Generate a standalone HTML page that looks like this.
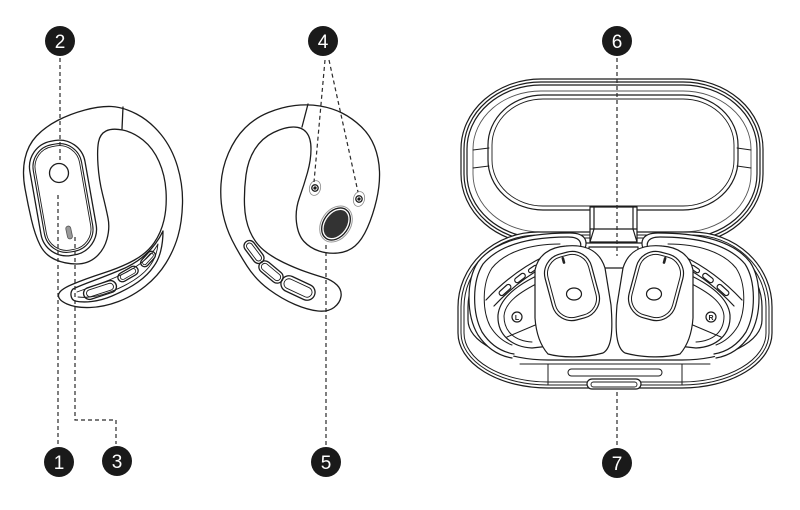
<!DOCTYPE html>
<html>
<head>
<meta charset="utf-8">
<style>
  html,body{margin:0;padding:0;background:#fff;}
  svg{display:block;}
</style>
</head>
<body>
<svg width="800" height="510" viewBox="0 0 800 510" xmlns="http://www.w3.org/2000/svg">
<rect width="800" height="510" fill="#fff"/>

<!-- ================= LEFT EARBUD ================= -->
<g fill="none" stroke="#1c1c1c" stroke-width="1.3" stroke-linejoin="round" stroke-linecap="round">
  <path fill="#fff" d="M111.5,106.5 Q123,107 136.5,114 Q150,121 161,134.5 Q172,148 177.5,166.5 Q183,185 182.5,203.5 Q182,222 178,236 Q174,250 166,263 Q158,276 145.5,286 Q133,296 118.5,301.5 Q104,307 90,307.5 Q76,308 67,304 Q58,300 58.5,295 Q59,290 72,284.5 Q85,279 103.5,273 Q122,267 134.5,260 Q147,253 154,243 Q161,233 164,220 Q167,207 166,191 Q165,175 159,161.5 Q153,148 143,140 Q133,132 122.5,130 Q112,128 106,131 Q100,134 98.5,142 Q97,150 98,165 Q99,180 102.5,194 Q106,208 108,218 Q110,228 107,239 Q104,250 96,257 Q88,264 76.5,264 Q65,264 55,259.5 Q45,255 40,245 Q35,235 31.5,220 Q28,205 25,188.5 Q22,172 25,158.5 Q28,145 36.5,136 Q45,127 57.5,120.5 Q70,114 85,110 Q100,106 111.5,106.5 Z"/>
  <line x1="123" y1="107" x2="122" y2="129"/>
  <!-- pad -->
  <g transform="rotate(-10 63 198)">
    <rect x="35" y="140" width="56" height="116" rx="26"/>
    <rect x="38.5" y="143.5" width="49" height="109" rx="22.5" stroke-width="1.1"/>
    <rect x="40.5" y="145.5" width="45" height="105" rx="20.5" stroke-width="0.9"/>
  </g>
  <circle cx="59" cy="173" r="9.5"/>
  <rect x="66.5" y="226" width="5" height="13" rx="2.5" transform="rotate(-12 69 232)" fill="#999" stroke="#555" stroke-width="0.8"/>
  <!-- tail blade -->
  <path d="M73,289 C85,283 100,279 125,268 C142,260 155,248 163,231 C163,245 160,258 154,266 C146,278 133,287 112,296 C98,302 84,303 75,301 C70,299 70,292 73,289 Z"/>
  <path d="M77,292 C90,287 105,283 127,272 C142,264 152,255 158,244 C157,255 153,262 149,267 C141,277 128,285 110,292 C97,297 86,298 78,297" stroke-width="0.9"/>
  <g transform="translate(100,290) rotate(-18)"><rect x="-17" y="-6" width="34" height="12" rx="6"/><rect x="-14" y="-3.5" width="28" height="7" rx="3.5" stroke-width="0.9"/></g>
  <g transform="translate(128,274) rotate(-30)"><rect x="-11" y="-4.5" width="22" height="9" rx="4.5"/><rect x="-8.5" y="-2.5" width="17" height="5" rx="2.5" stroke-width="0.8"/></g>
  <g transform="translate(148,259) rotate(-48)"><rect x="-9" y="-4" width="18" height="8" rx="4"/><rect x="-7" y="-2" width="14" height="4" rx="2" stroke-width="0.8"/></g>
</g>

<!-- ================= RIGHT EARBUD ================= -->
<g fill="none" stroke="#1c1c1c" stroke-width="1.3" stroke-linejoin="round" stroke-linecap="round">
  <path fill="#fff" d="M320,106 Q308,104 295,105.5 Q282,107 268.5,112.5 Q255,118 245,128 Q235,138 228.5,153 Q222,168 221,184 Q220,200 223,214 Q226,228 232,240 Q238,252 247,266 Q256,280 269,289.5 Q282,299 295,304.5 Q308,310 318,311 Q328,312 334,307.5 Q340,303 341,296.5 Q342,290 337,285 Q332,280 323.5,277.5 Q315,275 305,271.5 Q295,268 283.5,262.5 Q272,257 263.5,250 Q255,243 250,231.5 Q245,220 244.5,205 Q244,190 246,175 Q248,160 255,149 Q262,138 273.5,132.5 Q285,127 293.5,127 Q302,127 306.5,132.5 Q311,138 311,149 Q311,160 307.5,172.5 Q304,185 299.5,197.5 Q295,210 296.5,222.5 Q298,235 304,241.5 Q310,248 319,251 Q328,254 338,253 Q348,252 355,246 Q362,240 367.5,227.5 Q373,215 376.5,200 Q380,185 379.5,171.5 Q379,158 374.5,146.5 Q370,135 361,126.5 Q352,118 342,113 Q332,108 320,106 Z"/>
  <line x1="308" y1="104" x2="302" y2="127"/>
  <g transform="translate(315,188) rotate(15)"><ellipse rx="5.5" ry="7.5" stroke="#888" stroke-width="0.8"/><circle r="3.2"/><circle r="1" fill="#222"/></g>
  <g transform="translate(359,199) rotate(15)"><ellipse rx="5.5" ry="7.5" stroke="#888" stroke-width="0.8"/><circle r="3.2"/><circle r="1" fill="#222"/></g>
  <g transform="translate(336,224) rotate(35)">
    <ellipse rx="14.5" ry="19.5" stroke="#999" stroke-width="1"/>
    <ellipse rx="12.5" ry="17.5"/>
    <ellipse rx="10.5" ry="15.5" fill="#333" stroke="none"/>
  </g>
  <g transform="translate(254,252) rotate(53)"><rect x="-13" y="-5.5" width="26" height="11" rx="5.5"/><rect x="-10.5" y="-3" width="21" height="6" rx="3" stroke-width="0.9"/></g>
  <g transform="translate(271,272) rotate(40)"><rect x="-14" y="-6" width="28" height="12" rx="6"/><rect x="-11.5" y="-3.5" width="23" height="7" rx="3.5" stroke-width="0.9"/></g>
  <g transform="translate(298,288) rotate(25)"><rect x="-18" y="-8" width="36" height="16" rx="8"/><rect x="-15" y="-5" width="30" height="10" rx="5" stroke-width="0.9"/></g>
</g>

<!-- ================= CASE ================= -->
<g fill="none" stroke="#1c1c1c" stroke-width="1.2" stroke-linejoin="round" stroke-linecap="round">
  <!-- lid -->
  <rect x="461" y="79" width="302" height="165" rx="80" ry="70" fill="#fff"/>
  <rect x="464" y="82" width="296" height="159" rx="77" ry="67"/>
  <rect x="467" y="85" width="290" height="153" rx="74" ry="64"/>
  <rect x="473" y="91" width="278" height="141" rx="68" ry="58" stroke="#555" stroke-width="0.9"/>
  <rect x="488" y="95" width="250" height="115" rx="55" ry="50"/>
  <rect x="492" y="99" width="242" height="107" rx="51" ry="46" stroke-width="0.9"/>
  <line x1="473" y1="150" x2="489" y2="148" stroke-width="0.9"/>
  <line x1="473" y1="168" x2="489" y2="166" stroke-width="0.9"/>
  <line x1="737" y1="148" x2="751" y2="150" stroke-width="0.9"/>
  <line x1="737" y1="166" x2="751" y2="168" stroke-width="0.9"/>

  <!-- base -->
  <path fill="#fff" d="M538,232 L692,232 A80,75 0 0 1 772,307 L772,333 A90,55 0 0 1 682,388 L548,388 A90,55 0 0 1 458,333 L458,307 A80,75 0 0 1 538,232 Z"/>
  <path d="M538,235 L692,235 A77,72 0 0 1 769,307 L769,333 A87,52 0 0 1 682,385 L548,385 A87,52 0 0 1 461,333 L461,307 A77,72 0 0 1 538,235 Z" stroke-width="1"/>
  <path d="M538,238 L692,238 A74,69 0 0 1 766,307 L766,333 A84,49 0 0 1 682,382 L548,382 A84,49 0 0 1 464,333 L464,307 A74,69 0 0 1 538,238 Z" stroke-width="1"/>
  <path d="M538,243 L692,243 A70,64 0 0 1 762,307 L762,320 A80,40 0 0 1 682,360 L548,360 A80,40 0 0 1 468,320 L468,307 A70,64 0 0 1 538,243 Z"/>
  <line x1="520" y1="364" x2="710" y2="364" stroke-width="1"/>
  <line x1="548" y1="364" x2="548" y2="385" stroke-width="1"/>
  <line x1="682" y1="364" x2="682" y2="385" stroke-width="1"/>
  <rect x="568" y="369" width="94" height="7" rx="3.5" stroke-width="1"/>
  <rect x="587" y="379" width="54" height="10" rx="5" fill="#fff"/>
  <rect x="591" y="382" width="46" height="5" rx="2.5" stroke-width="0.9"/>

  <!-- hinge -->
  <rect x="590" y="207" width="47" height="35" fill="#fff"/>
  <line x1="594" y1="207" x2="594" y2="229"/>
  <line x1="633" y1="207" x2="633" y2="229"/>
  <line x1="590" y1="229" x2="637" y2="229"/>
  <line x1="594" y1="229" x2="590" y2="242"/>
  <line x1="633" y1="229" x2="637" y2="242"/>
  <rect x="589" y="247" width="49" height="21" fill="#fff"/>
</g>

<!-- in-case left earbud -->
<g fill="none" stroke="#1c1c1c" stroke-width="1.2" stroke-linejoin="round" stroke-linecap="round">
  <path d="M582,254 C590,242 586,233 570,233 C530,233 495,240 478,262 C466,280 466,315 478,335 C488,350 500,356 512,358" fill="#fff"/>
  <path d="M578,253 C584,243 580,237 568,237 C532,237 500,244 483,264 C472,281 472,313 482,332 C491,346 502,352 514,354"/>
  <path d="M560,244 C530,244 505,252 492,268 C482,283 482,310 490,326 C496,336 504,342 512,345" stroke-width="1"/>
  <path d="M486,300 C500,285 520,268 545,256"/>
  <path d="M494,306 C508,291 525,277 545,266"/>
  <g transform="translate(505,290) rotate(-42)"><rect x="-7" y="-2.5" width="14" height="5" rx="2.5"/></g>
  <g transform="translate(520,278) rotate(-38)"><rect x="-6" y="-2.5" width="12" height="5" rx="2.5"/></g>
  <g transform="translate(533,269) rotate(-34)"><rect x="-5" y="-2" width="10" height="4" rx="2"/></g>
  <path fill="#fff" d="M545,272 C522,282 500,296 498,315 C497,335 512,347 532,348 L550,346"/>
  <path d="M540,282 C520,292 505,302 504,316 C504,332 515,341 532,342" stroke-width="1"/>
  <line x1="507" y1="337" x2="540" y2="323" stroke-width="1"/>
  <line x1="540" y1="323" x2="544" y2="346" stroke-width="1"/>
  <circle cx="517" cy="317" r="5"/>
  <path fill="#fff" d="M566,246 C588,244 600,252 605,268 L611,305 C613,330 612,348 603,353 C585,358 562,358 548,354 C540,345 536,332 535,318 L535,270 C538,255 550,247 566,246 Z"/>
  <g transform="rotate(-15 572 286)">
    <rect x="548" y="252" width="48" height="68" rx="20"/>
    <rect x="551" y="255" width="42" height="62" rx="17" stroke-width="1"/>
  </g>
  <ellipse cx="574" cy="294" rx="7.5" ry="6"/>
  <rect x="562" y="257" width="2.6" height="7" rx="1.3" fill="#222" stroke="none" transform="rotate(-15 563 260)"/>
</g>

<!-- in-case right earbud (mirror) -->
<g transform="matrix(-1 0 0 1 1228 0)" fill="none" stroke="#1c1c1c" stroke-width="1.2" stroke-linejoin="round" stroke-linecap="round">
  <path d="M582,254 C590,242 586,233 570,233 C530,233 495,240 478,262 C466,280 466,315 478,335 C488,350 500,356 512,358" fill="#fff"/>
  <path d="M578,253 C584,243 580,237 568,237 C532,237 500,244 483,264 C472,281 472,313 482,332 C491,346 502,352 514,354"/>
  <path d="M560,244 C530,244 505,252 492,268 C482,283 482,310 490,326 C496,336 504,342 512,345" stroke-width="1"/>
  <path d="M486,300 C500,285 520,268 545,256"/>
  <path d="M494,306 C508,291 525,277 545,266"/>
  <g transform="translate(505,290) rotate(-42)"><rect x="-7" y="-2.5" width="14" height="5" rx="2.5"/></g>
  <g transform="translate(520,278) rotate(-38)"><rect x="-6" y="-2.5" width="12" height="5" rx="2.5"/></g>
  <g transform="translate(533,269) rotate(-34)"><rect x="-5" y="-2" width="10" height="4" rx="2"/></g>
  <path fill="#fff" d="M545,272 C522,282 500,296 498,315 C497,335 512,347 532,348 L550,346"/>
  <path d="M540,282 C520,292 505,302 504,316 C504,332 515,341 532,342" stroke-width="1"/>
  <line x1="507" y1="337" x2="540" y2="323" stroke-width="1"/>
  <line x1="540" y1="323" x2="544" y2="346" stroke-width="1"/>
  <circle cx="517" cy="317" r="5"/>
  <path fill="#fff" d="M566,246 C588,244 600,252 605,268 L611,305 C613,330 612,348 603,353 C585,358 562,358 548,354 C540,345 536,332 535,318 L535,270 C538,255 550,247 566,246 Z"/>
  <g transform="rotate(-15 572 286)">
    <rect x="548" y="252" width="48" height="68" rx="20"/>
    <rect x="551" y="255" width="42" height="62" rx="17" stroke-width="1"/>
  </g>
  <ellipse cx="574" cy="294" rx="7.5" ry="6"/>
  <rect x="562" y="257" width="2.6" height="7" rx="1.3" fill="#222" stroke="none" transform="rotate(-15 563 260)"/>
</g>
<text x="517" y="320" font-family="Liberation Sans, sans-serif" font-size="7" font-weight="bold" fill="#1c1c1c" text-anchor="middle">L</text>
<text x="711" y="320" font-family="Liberation Sans, sans-serif" font-size="7" font-weight="bold" fill="#1c1c1c" text-anchor="middle">R</text>

<!-- ================= DASHED LEADERS ================= -->
<g fill="none" stroke="#2a2a2a" stroke-width="1.2" stroke-dasharray="4 3">
  <line x1="60" y1="58" x2="60" y2="163"/>
  <line x1="58" y1="195" x2="58" y2="445"/>
  <polyline points="75,237 75,420 116,420 116,444"/>
  <line x1="325" y1="60" x2="314" y2="182"/>
  <line x1="329" y1="60" x2="358" y2="192"/>
  <line x1="326" y1="245" x2="326" y2="445"/>
  <line x1="617" y1="58" x2="617" y2="256"/>
  <line x1="617" y1="392" x2="617" y2="446"/>
</g>

<!-- ================= NUMBER BADGES ================= -->
<g font-family="Liberation Sans, sans-serif" font-size="19" fill="#fff" text-anchor="middle">
  <circle cx="60" cy="41" r="15" fill="#1a1a1a"/><text x="60" y="48">2</text>
  <circle cx="323" cy="41" r="15" fill="#1a1a1a"/><text x="323" y="48">4</text>
  <circle cx="617" cy="41" r="15" fill="#1a1a1a"/><text x="617" y="48">6</text>
  <circle cx="59" cy="462" r="15" fill="#1a1a1a"/><text x="59" y="469">1</text>
  <circle cx="117" cy="461" r="15" fill="#1a1a1a"/><text x="117" y="468">3</text>
  <circle cx="326" cy="462" r="15" fill="#1a1a1a"/><text x="326" y="469">5</text>
  <circle cx="617" cy="463" r="15" fill="#1a1a1a"/><text x="617" y="470">7</text>
</g>
</svg>
</body>
</html>
